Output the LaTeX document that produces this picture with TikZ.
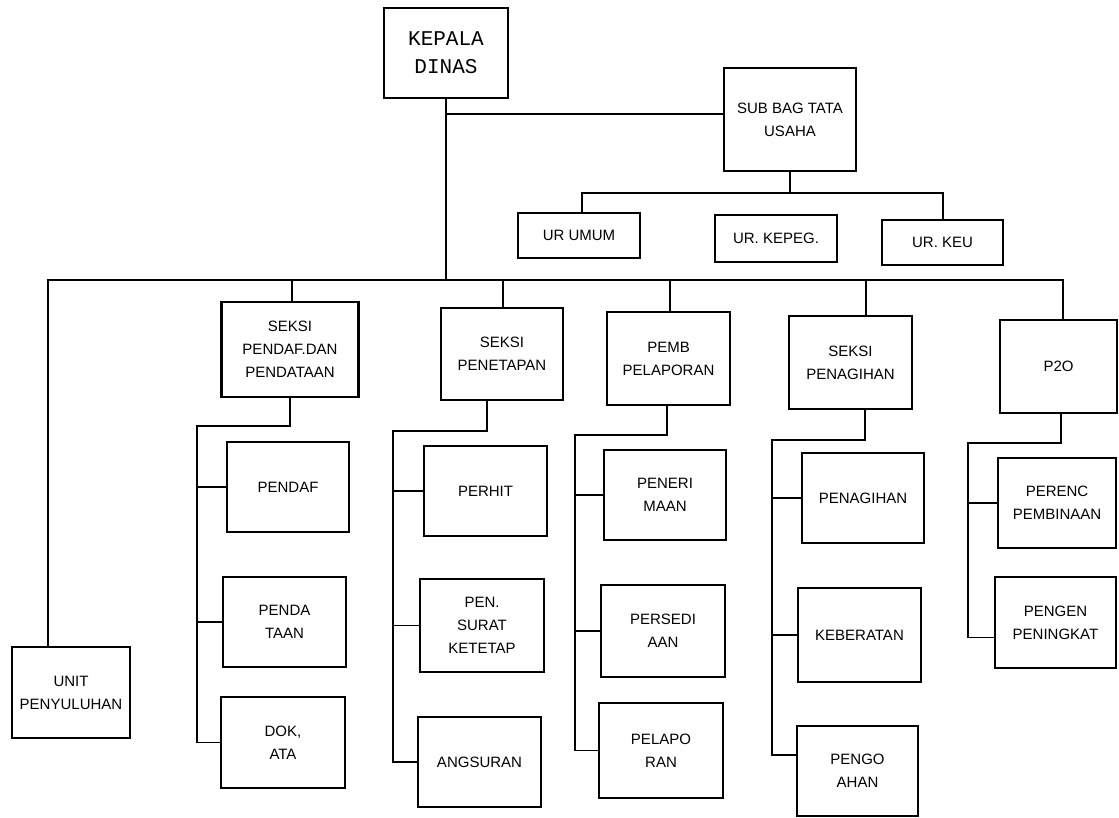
\documentclass[tikz,border=0pt]{standalone}
\usepackage{fontspec}
\setmainfont{Liberation Sans}
\newfontfamily\kepfont{Liberation Mono}
\tikzset{
  orgbox/.style={draw, line width=2.2pt, inner sep=0pt, align=center,
    font=\fontsize{15}{23}\selectfont},
  link/.style={line width=1.1pt}
}
\begin{document}
\begin{tikzpicture}[x=1pt,y=-1pt]
  \useasboundingbox[fill=white] (0,0) rectangle (1119,817);

  % top level
  \node[orgbox, minimum width=124, minimum height=90, font=\kepfont\fontsize{21}{28}\selectfont] (kepala) at (446,53) {KEPALA\\DINAS};
  \node[orgbox, minimum width=132, minimum height=103] (subbag) at (790,119.5) {SUB BAG TATA\\USAHA};
  \node[orgbox, minimum width=122, minimum height=45] (urumum) at (579,235.5) {UR UMUM};
  \node[orgbox, minimum width=122, minimum height=47] (urkepeg) at (776,238.5) {UR. KEPEG.};
  \node[orgbox, minimum width=121, minimum height=45] (urkeu) at (942.5,242.5) {UR. KEU};

  % seksi
  \node[orgbox, minimum width=118, minimum height=91] (unit) at (71,692.5) {UNIT\\PENYULUHAN};
  \node[orgbox, minimum width=137, minimum height=95] (sekdaf) at (290,349.5) {SEKSI\\PENDAF.DAN\\PENDATAAN};
  \node[orgbox, minimum width=122, minimum height=92] (sekpen) at (502,354) {SEKSI\\PENETAPAN};
  \node[orgbox, minimum width=123, minimum height=93] (pemb) at (668.5,358.5) {PEMB\\PELAPORAN};
  \node[orgbox, minimum width=123, minimum height=93] (sekpng) at (850.5,362.5) {SEKSI\\PENAGIHAN};
  \node[orgbox, minimum width=117, minimum height=93] (ptwo) at (1058.5,366.5) {P2O};

  % sub units
  \node[orgbox, minimum width=122, minimum height=90] (pendaf) at (288,487) {PENDAF};
  \node[orgbox, minimum width=123, minimum height=90] (pendataan) at (284.5,622) {PENDA\\TAAN};
  \node[orgbox, minimum width=124, minimum height=91] (dok) at (283,742.5) {DOK,\\ATA};

  \node[orgbox, minimum width=123, minimum height=90] (perhit) at (485.5,491) {PERHIT};
  \node[orgbox, minimum width=124, minimum height=93] (pensurat) at (482,625.5) {PEN.\\SURAT\\KETETAP};
  \node[orgbox, minimum width=123, minimum height=90] (angsuran) at (479.5,762) {ANGSURAN};

  \node[orgbox, minimum width=122, minimum height=90] (peneri) at (665,495) {PENERI\\MAAN};
  \node[orgbox, minimum width=124, minimum height=92] (persedi) at (663,631) {PERSEDI\\AAN};
  \node[orgbox, minimum width=124, minimum height=95] (pelapo) at (661,750.5) {PELAPO\\RAN};

  \node[orgbox, minimum width=122, minimum height=90] (penagihan) at (863,498) {PENAGIHAN};
  \node[orgbox, minimum width=123, minimum height=94] (keberatan) at (859.5,635) {KEBERATAN};
  \node[orgbox, minimum width=121, minimum height=90] (pengo) at (857.5,771) {PENGO\\AHAN};

  \node[orgbox, minimum width=118, minimum height=90] (perenc) at (1057,503) {PERENC\\PEMBINAAN};
  \node[orgbox, minimum width=121, minimum height=91] (pengen) at (1055.5,622.5) {PENGEN\\PENINGKAT};

  % junctions
  \coordinate (t1) at (446,114);
  \coordinate (u0) at (582,193);
  \coordinate (u2) at (943,193);
  \coordinate (b0) at (48,280);
  \coordinate (b1) at (292,280);
  \coordinate (b2) at (503,280);
  \coordinate (b3) at (670,280);
  \coordinate (b4) at (866,280);
  \coordinate (b5) at (1063,280);
  \coordinate (pengoin) at ([yshift=16pt]pengo.west);
  \coordinate (pengenin) at ([yshift=-15pt]pengen.west);

  \draw[link] (kepala.south) -- (kepala.south |- b0);
  \draw[link] (t1) -- (t1 -| subbag.west);
  \draw[link] (subbag.south) -- (subbag.south |- u0);
  \draw[link] (u0 |- urumum.north) -- (u0) -- (u2) -- (u2 |- urkeu.north);

  \draw[link] (b0 |- unit.north) -- (b0) -- (b5) -- (b5 |- ptwo.north);
  \draw[link] (b1) -- (b1 |- sekdaf.north);
  \draw[link] (b2) -- (b2 |- sekpen.north);
  \draw[link] (b3) -- (b3 |- pemb.north);
  \draw[link] (b4) -- (b4 |- sekpng.north);

  % columns
  \coordinate (d1) at (290,426);  \coordinate (c1) at (197,426);
  \coordinate (d2) at (487,431);  \coordinate (c2) at (393,431);
  \coordinate (d3) at (667,435);  \coordinate (c3) at (575,435);
  \coordinate (d4) at (865,440);  \coordinate (c4) at (772,440);
  \coordinate (d5) at (1061,443); \coordinate (c5) at (968,443);

  \draw[link] (d1 |- sekdaf.south) -- (d1) -- (c1) -- (c1 |- dok.west) -- (dok.west);
  \draw[link] (c1 |- pendaf.west) -- (pendaf.west);
  \draw[link] (c1 |- pendataan.west) -- (pendataan.west);

  \draw[link] (d2 |- sekpen.south) -- (d2) -- (c2) -- (c2 |- angsuran.west) -- (angsuran.west);
  \draw[link] (c2 |- perhit.west) -- (perhit.west);
  \draw[link] (c2 |- pensurat.west) -- (pensurat.west);

  \draw[link] (d3 |- pemb.south) -- (d3) -- (c3) -- (c3 |- pelapo.west) -- (pelapo.west);
  \draw[link] (c3 |- peneri.west) -- (peneri.west);
  \draw[link] (c3 |- persedi.west) -- (persedi.west);

  \draw[link] (d4 |- sekpng.south) -- (d4) -- (c4) -- (c4 |- pengoin) -- (pengoin);
  \draw[link] (c4 |- penagihan.west) -- (penagihan.west);
  \draw[link] (c4 |- keberatan.west) -- (keberatan.west);

  \draw[link] (d5 |- ptwo.south) -- (d5) -- (c5) -- (c5 |- pengenin) -- (pengenin);
  \draw[link] (c5 |- perenc.west) -- (perenc.west);
\end{tikzpicture}
\end{document}
